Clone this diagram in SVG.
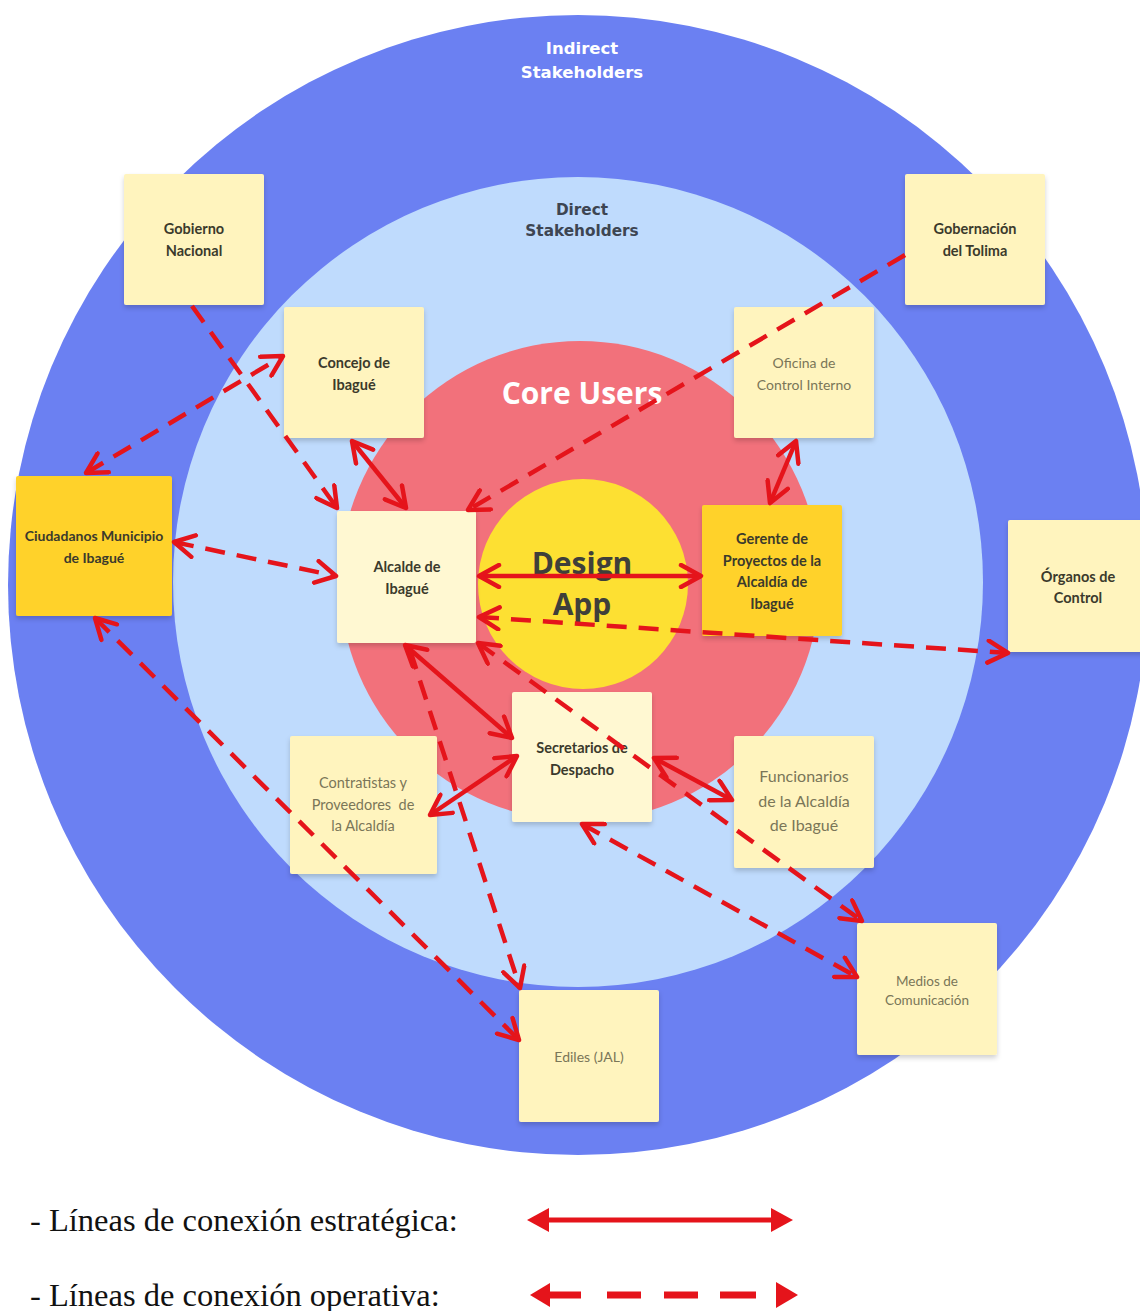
<svg xmlns="http://www.w3.org/2000/svg" width="1140" height="1311" viewBox="0 0 1140 1311">
<defs>
<style>
.note{fill:#FFF4BE;filter:url(#sh)}
.pale{fill:#FFF8D2;filter:url(#sh)}
.gold{fill:#FFD22C;filter:url(#sh)}
.b{font-family:Lato,"Open Sans",sans-serif;font-weight:700;font-size:14.5px;fill:#3b3a2c;text-anchor:middle}
.r{font-family:Lato,"Open Sans",sans-serif;font-weight:400;font-size:14px;fill:#7a7658;text-anchor:middle}
.con{fill:none;stroke:#E5141B;stroke-width:4.5;marker-end:url(#ah)}
.dash{stroke-dasharray:20 12}
.two{marker-start:url(#ah)}
.leg{font-family:"Liberation Serif",serif;font-size:32.5px;fill:#111}
</style>
<filter id="sh" x="-10%" y="-10%" width="120%" height="125%">
<feDropShadow dx="0" dy="3" stdDeviation="2.5" flood-color="#000" flood-opacity="0.18"/>
</filter>
<marker id="ah" viewBox="0 0 28 26" refX="23" refY="13" markerWidth="28" markerHeight="26" markerUnits="userSpaceOnUse" orient="auto-start-reverse">
<path d="M3,2 L23,13 L3,24" fill="none" stroke="#E5141B" stroke-width="4.5" stroke-linejoin="round" stroke-linecap="round"/>
</marker>
</defs>
<rect width="1140" height="1311" fill="#FFFFFF"/>
<g id="rings">
<circle cx="578" cy="585" r="570" fill="#6B80F2"/>
<circle cx="578" cy="582" r="405" fill="#BFDBFD"/>
<circle cx="580" cy="581" r="240" fill="#F2717B"/>
<circle cx="583" cy="584" r="105" fill="#FDE032"/>
<text x="582" y="54" font-family="'DejaVu Sans',sans-serif" font-weight="700" font-size="16.5" fill="#FFFFFF" text-anchor="middle">Indirect</text>
<text x="582" y="78" font-family="'DejaVu Sans',sans-serif" font-weight="700" font-size="16.5" fill="#FFFFFF" text-anchor="middle">Stakeholders</text>
<text x="582" y="215" font-family="'DejaVu Sans',sans-serif" font-weight="700" font-size="15.3" fill="#3d4552" text-anchor="middle">Direct</text>
<text x="582" y="236" font-family="'DejaVu Sans',sans-serif" font-weight="700" font-size="15.3" fill="#3d4552" text-anchor="middle">Stakeholders</text>
<text x="582" y="404" font-family="'Open Sans',sans-serif" font-weight="700" font-size="30" fill="#FFFFFF" text-anchor="middle">Core Users</text>
<text x="582" y="574" font-family="'Open Sans',sans-serif" font-weight="700" font-size="30" fill="#3f3f3a" text-anchor="middle">Design</text>
<text x="582" y="615" font-family="'Open Sans',sans-serif" font-weight="700" font-size="30" fill="#3f3f3a" text-anchor="middle">App</text>
</g>
<g id="gobierno-nacional">
<rect class="note" x="124" y="174" width="140" height="131" rx="2"/>
<text class="b" x="194" y="234">Gobierno</text>
<text class="b" x="194" y="256">Nacional</text>
</g>
<g id="gobernacion-tolima">
<rect class="note" x="905" y="174" width="140" height="131" rx="2"/>
<text class="b" x="975" y="234">Gobernación</text>
<text class="b" x="975" y="256">del Tolima</text>
</g>
<g id="concejo">
<rect class="note" x="284" y="307" width="140" height="131" rx="2"/>
<text class="b" x="354" y="368">Concejo de</text>
<text class="b" x="354" y="390">Ibagué</text>
</g>
<g id="oficina-control">
<rect class="note" x="734" y="307" width="140" height="131" rx="2"/>
<text class="r" x="804" y="368">Oficina de</text>
<text class="r" x="804" y="390">Control Interno</text>
</g>
<g id="ciudadanos">
<rect class="gold" x="16" y="476" width="156" height="140" rx="2"/>
<text class="b" x="94" y="541" style="font-size:14px">Ciudadanos Municipio</text>
<text class="b" x="94" y="563" style="font-size:14px">de Ibagué</text>
</g>
<g id="alcalde">
<rect class="pale" x="337" y="511" width="139" height="132" rx="2"/>
<text class="b" x="407" y="572">Alcalde de</text>
<text class="b" x="407" y="594">Ibagué</text>
</g>
<g id="gerente">
<rect class="gold" x="702" y="505" width="140" height="131" rx="2"/>
<text class="b" x="772" y="544">Gerente de</text>
<text class="b" x="772" y="566">Proyectos de la</text>
<text class="b" x="772" y="587">Alcaldía de</text>
<text class="b" x="772" y="609">Ibagué</text>
</g>
<g id="organos-control">
<rect class="note" x="1008" y="520" width="140" height="132" rx="2"/>
<text class="b" x="1078" y="582">Órganos de</text>
<text class="b" x="1078" y="603">Control</text>
</g>
<g id="secretarios">
<rect class="pale" x="512" y="692" width="140" height="130" rx="2"/>
<text class="b" x="582" y="753">Secretarios de</text>
<text class="b" x="582" y="775">Despacho</text>
</g>
<g id="contratistas">
<rect class="note" x="290" y="736" width="147" height="138" rx="2"/>
<text class="r" x="363" y="788" style="font-size:14.5px">Contratistas y</text>
<text class="r" x="363" y="810" style="font-size:14.5px" xml:space="preserve">Proveedores  de</text>
<text class="r" x="363" y="831" style="font-size:14.5px">la Alcaldía</text>
</g>
<g id="funcionarios">
<rect class="note" x="734" y="736" width="140" height="132" rx="2"/>
<text class="r" x="804" y="782" style="font-size:16px">Funcionarios</text>
<text class="r" x="804" y="807" style="font-size:16px">de la Alcaldía</text>
<text class="r" x="804" y="831" style="font-size:16px">de Ibagué</text>
</g>
<g id="medios">
<rect class="note" x="857" y="923" width="140" height="132" rx="2"/>
<text class="r" x="927" y="986" style="font-size:13.5px">Medios de</text>
<text class="r" x="927" y="1005" style="font-size:13.5px">Comunicación</text>
</g>
<g id="ediles">
<rect class="note" x="519" y="990" width="140" height="132" rx="2"/>
<text class="r" x="589" y="1062">Ediles (JAL)</text>
</g>
<g id="connectors">
<path class="con two" d="M352,441 L406,508"/>
<path class="con two" d="M796,441 L770,503"/>
<path class="con two" d="M479,576 L701,576"/>
<path class="con two" d="M405,645 L512,738"/>
<path class="con two" d="M517,756 L430,815"/>
<path class="con two" d="M654,758 L732,800"/>
<path class="con dash" d="M192,306 L337,508"/>
<path class="con dash two" d="M86,473 L283,356"/>
<path class="con dash" d="M905,255 L468,510"/>
<path class="con dash two" d="M174,542 L336,576"/>
<path class="con dash two" d="M479,617 L1008,653"/>
<path class="con dash two" d="M95,618 L519,1040"/>
<path class="con dash" d="M410,650 L520,988"/>
<path class="con dash two" d="M478,643 L862,921"/>
<path class="con dash two" d="M582,824 L857,977"/>
</g>
<g id="legend">
<text class="leg" x="30" y="1231">- Líneas de conexión estratégica:</text>
<text class="leg" x="30" y="1306">- Líneas de conexión operativa:</text>
<path d="M545,1220 H775" stroke="#E5141B" stroke-width="5" fill="none"/>
<polygon points="527,1220 549,1208 549,1232" fill="#E5141B"/>
<polygon points="793,1220 771,1208 771,1232" fill="#E5141B"/>
<path d="M546,1295 H581 M607,1295 H641 M664,1295 H698 M720,1295 H756" stroke="#E5141B" stroke-width="7" fill="none"/>
<polygon points="530,1295 550,1283 550,1307" fill="#E5141B"/>
<polygon points="798,1295 776,1282 776,1308" fill="#E5141B"/>
</g>
</svg>
